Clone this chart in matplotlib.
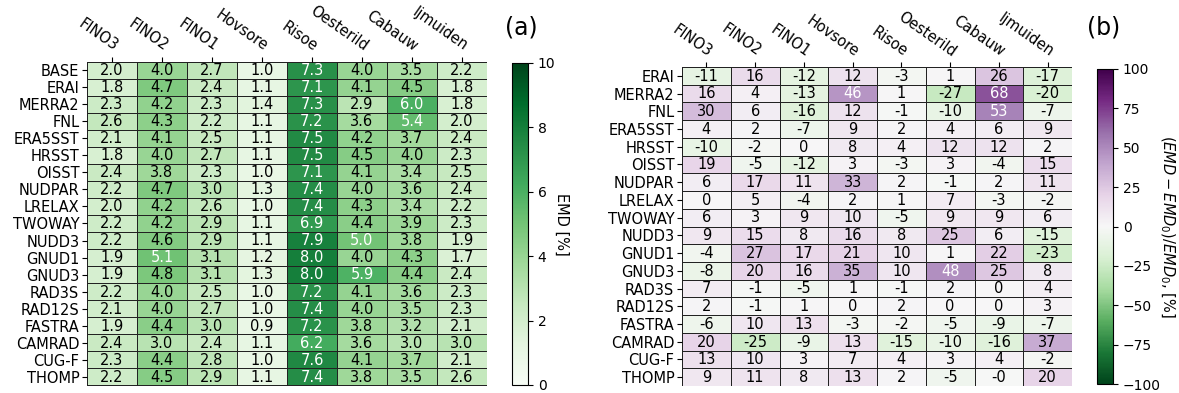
import numpy as np
import matplotlib
matplotlib.use("Agg")
import matplotlib.pyplot as plt

sites = ["FINO3", "FINO2", "FINO1", "Hovsore", "Risoe", "Oesterild", "Cabauw", "Ijmuiden"]

runs = ["BASE", "ERAI", "MERRA2", "FNL", "ERA5SST", "HRSST", "OISST", "NUDPAR",
        "LRELAX", "TWOWAY", "NUDD3", "GNUD1", "GNUD3", "RAD3S", "RAD12S",
        "FASTRA", "CAMRAD", "CUG-F", "THOMP"]

# EMD [%] per run and site
emd = [
    [2.0, 4.0, 2.7, 1.0, 7.3, 4.0, 3.5, 2.2],
    [1.8, 4.7, 2.4, 1.1, 7.1, 4.1, 4.5, 1.8],
    [2.3, 4.2, 2.3, 1.4, 7.3, 2.9, 6.0, 1.8],
    [2.6, 4.3, 2.2, 1.1, 7.2, 3.6, 5.4, 2.0],
    [2.1, 4.1, 2.5, 1.1, 7.5, 4.2, 3.7, 2.4],
    [1.8, 4.0, 2.7, 1.1, 7.5, 4.5, 4.0, 2.3],
    [2.4, 3.8, 2.3, 1.0, 7.1, 4.1, 3.4, 2.5],
    [2.2, 4.7, 3.0, 1.3, 7.4, 4.0, 3.6, 2.4],
    [2.0, 4.2, 2.6, 1.0, 7.4, 4.3, 3.4, 2.2],
    [2.2, 4.2, 2.9, 1.1, 6.9, 4.4, 3.9, 2.3],
    [2.2, 4.6, 2.9, 1.1, 7.9, 5.0, 3.8, 1.9],
    [1.9, 5.1, 3.1, 1.2, 8.0, 4.0, 4.3, 1.7],
    [1.9, 4.8, 3.1, 1.3, 8.0, 5.9, 4.4, 2.4],
    [2.2, 4.0, 2.5, 1.0, 7.2, 4.1, 3.6, 2.3],
    [2.1, 4.0, 2.7, 1.0, 7.4, 4.0, 3.5, 2.3],
    [1.9, 4.4, 3.0, 0.9, 7.2, 3.8, 3.2, 2.1],
    [2.4, 3.0, 2.4, 1.1, 6.2, 3.6, 3.0, 3.0],
    [2.3, 4.4, 2.8, 1.0, 7.6, 4.1, 3.7, 2.1],
    [2.2, 4.5, 2.9, 1.1, 7.4, 3.8, 3.5, 2.6],
]

# relative change to BASE [%]
rel_runs = runs[1:]
rel = [
    [-11, 16, -12, 12, -3, 1, 26, -17],
    [16, 4, -13, 46, 1, -27, 68, -20],
    [30, 6, -16, 12, -1, -10, 53, -7],
    [4, 2, -7, 9, 2, 4, 6, 9],
    [-10, -2, 0, 8, 4, 12, 12, 2],
    [19, -5, -12, 3, -3, 3, -4, 15],
    [6, 17, 11, 33, 2, -1, 2, 11],
    [0, 5, -4, 2, 1, 7, -3, -2],
    [6, 3, 9, 10, -5, 9, 9, 6],
    [9, 15, 8, 16, 8, 25, 6, -15],
    [-4, 27, 17, 21, 10, 1, 22, -23],
    [-8, 20, 16, 35, 10, 48, 25, 8],
    [7, -1, -5, 1, -1, 2, 0, 4],
    [2, -1, 1, 0, 2, 0, 0, 3],
    [-6, 10, 13, -3, -2, -5, -9, -7],
    [20, -25, -9, 13, -15, -10, -16, 37],
    [13, 10, 3, 7, 4, 3, 4, -2],
    [9, 11, 8, 13, 2, -5, -0.3, 20],
]

W, H = 1179, 393
fig = plt.figure(figsize=(W / 100, H / 100), dpi=100)


def box(x0, y0, x1, y1):
    # pixel box -> figure fraction rect
    return [x0 / W, 1 - y1 / H, (x1 - x0) / W, (y1 - y0) / H]


def heat(ax, cax, values, rows, cmap, vmin, vmax, fmt, light, ticks, label, labelpad):
    data = np.array(values, dtype=float)
    nr, nc = data.shape
    mesh = ax.pcolormesh(data, cmap=cmap, vmin=vmin, vmax=vmax,
                         edgecolors="#222222", linewidth=0.5)
    ax.set_xlim(0, nc)
    ax.set_ylim(nr, 0)
    ax.set_xticks(np.arange(nc) + 0.5)
    ax.set_yticks(np.arange(nr) + 0.5)
    ax.set_yticklabels(rows, fontsize=10.5)
    ax.xaxis.tick_top()
    ax.set_xticklabels(sites, fontsize=10.5, rotation=-35, ha="right",
                       va="bottom", rotation_mode="anchor")
    ax.tick_params(length=3.5, width=0.8, pad=2)
    for s in ax.spines.values():
        s.set_visible(False)
    for i in range(nr):
        for j in range(nc):
            v = data[i, j]
            ax.text(j + 0.5, i + 0.52, format(v, fmt), ha="center", va="center",
                    fontsize=10.5, family=["Liberation Sans Narrow", "DejaVu Sans"],
                    color="white" if light(v) else "black")
    cb = fig.colorbar(mesh, cax=cax, ticks=ticks)
    cb.outline.set_linewidth(0.8)
    cax.tick_params(labelsize=10, length=3.5, width=0.8)
    cb.set_label(label, rotation=270, fontsize=10.5, labelpad=labelpad)
    return cb


ax_a = fig.add_axes(box(87, 61.5, 487, 385.5))
cax_a = fig.add_axes(box(512, 63, 528, 385))
heat(ax_a, cax_a, emd, runs, "Greens", 0, 10, ".1f", lambda v: v >= 5.0,
     [0, 2, 4, 6, 8, 10], "EMD [%]", 10)
fig.text(521 / W, 1 - 27 / H, "(a)", fontsize=17, ha="center", va="center")

ax_b = fig.add_axes(box(682, 67, 1072, 386))
cax_b = fig.add_axes(box(1097, 69, 1113, 384))
heat(ax_b, cax_b, rel, rel_runs, "PRGn_r", -100, 100, ".0f", lambda v: abs(v) >= 40,
     list(range(-100, 101, 25)), r"$(EMD - EMD_0)/EMD_0$, [%]", 11)
fig.text(1104 / W, 1 - 27 / H, "(b)", fontsize=17, ha="center", va="center")

fig.savefig("out.png", dpi=100)
